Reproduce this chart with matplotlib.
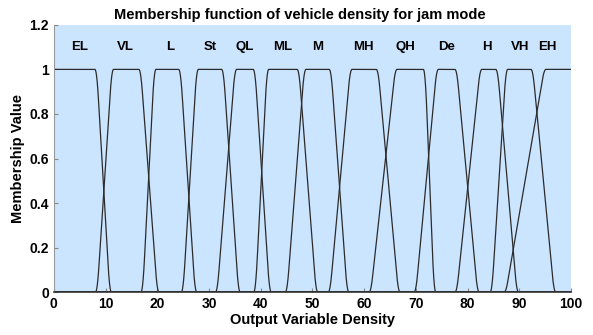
import numpy as np
import matplotlib.pyplot as plt

plt.rcParams['font.family'] = ['Liberation Sans', 'DejaVu Sans']

# trapezoid breakpoints (a, b, c, d) for each fuzzy set;
# EL and EH are shoulders (a == b or c == d)
names = ['EL', 'VL', 'L', 'St', 'QL', 'ML', 'M', 'MH', 'QH', 'De', 'H', 'VH', 'EH']
a_pts = [0.0, 8.4, 17.2, 25.0, 31.6, 39.0, 45.1, 53.4, 61.3, 70.0, 77.9, 84.7, 87.4]
b_pts = [0.0, 11.2, 19.4, 27.6, 35.0, 41.2, 48.4, 57.3, 66.0, 74.0, 82.4, 87.4, 94.8]
c_pts = [8.3, 16.8, 24.5, 32.8, 38.9, 47.4, 53.6, 62.7, 71.8, 77.9, 85.8, 92.6, 100.0]
d_pts = [10.8, 20.0, 27.3, 35.7, 41.7, 50.7, 56.7, 66.6, 73.5, 81.9, 89.5, 96.7, 100.0]

# where the set names sit above the curves
label_x = [4.9, 13.8, 22.5, 30.2, 37.0, 44.3, 51.1, 59.8, 67.9, 76.0, 83.8, 90.1, 95.4]
label_y = 1.1


def trapmf(x, a, b, c, d):
    if b > a:
        up = np.clip((x - a) / (b - a), 0, 1)
    else:
        up = np.ones_like(x)
    if d > c:
        down = np.clip((d - x) / (d - c), 0, 1)
    else:
        down = np.ones_like(x)
    return np.minimum(up, down)


step = 0.02
x = np.arange(-3, 103 + step, step)
kernel = np.ones(int(0.7 / step))
kernel /= kernel.sum()
keep = (x >= 0) & (x <= 100)

fig = plt.figure(figsize=(5.93, 3.35), dpi=100)
ax = fig.add_axes([0.0907, 0.1275, 0.8723, 0.7985])
ax.set_facecolor('#cce5ff')

for i in range(len(names)):
    y = trapmf(x, a_pts[i], b_pts[i], c_pts[i], d_pts[i])
    # soften the corners a little
    y = np.convolve(np.pad(y, len(kernel), mode='edge'), kernel, mode='same')[len(kernel):-len(kernel)]
    ax.plot(x[keep], y[keep], color='#2b2b2b', linewidth=0.9)
    ax.text(label_x[i], label_y, names[i], ha='center', va='center',
            fontsize=9.5, fontweight='bold')

ax.set_xlim(0, 100)
ax.set_ylim(0, 1.2)
ax.set_xticks(np.arange(0, 101, 10))
ax.set_yticks([0, 0.2, 0.4, 0.6, 0.8, 1.0, 1.2])
ax.set_yticklabels(['0', '0.2', '0.4', '0.6', '0.8', '1', '1.2'])
ax.tick_params(direction='in', length=3, labelsize=10, color='#888888')
for lbl in ax.get_xticklabels() + ax.get_yticklabels():
    lbl.set_fontweight('bold')

for s in ['top', 'right']:
    ax.spines[s].set_visible(False)
ax.spines['left'].set_color('#999999')
ax.spines['bottom'].set_color('#333333')
ax.spines['bottom'].set_linewidth(1.2)

ax.set_title('Membership function of vehicle density for jam mode',
             fontsize=10.5, fontweight='bold', pad=4, x=0.476)
ax.set_xlabel('Output Variable Density', fontsize=10.5, fontweight='bold', labelpad=1)
ax.set_ylabel('Membership Value', fontsize=10.5, fontweight='bold', labelpad=3)

fig.savefig('out.png', dpi=100)
